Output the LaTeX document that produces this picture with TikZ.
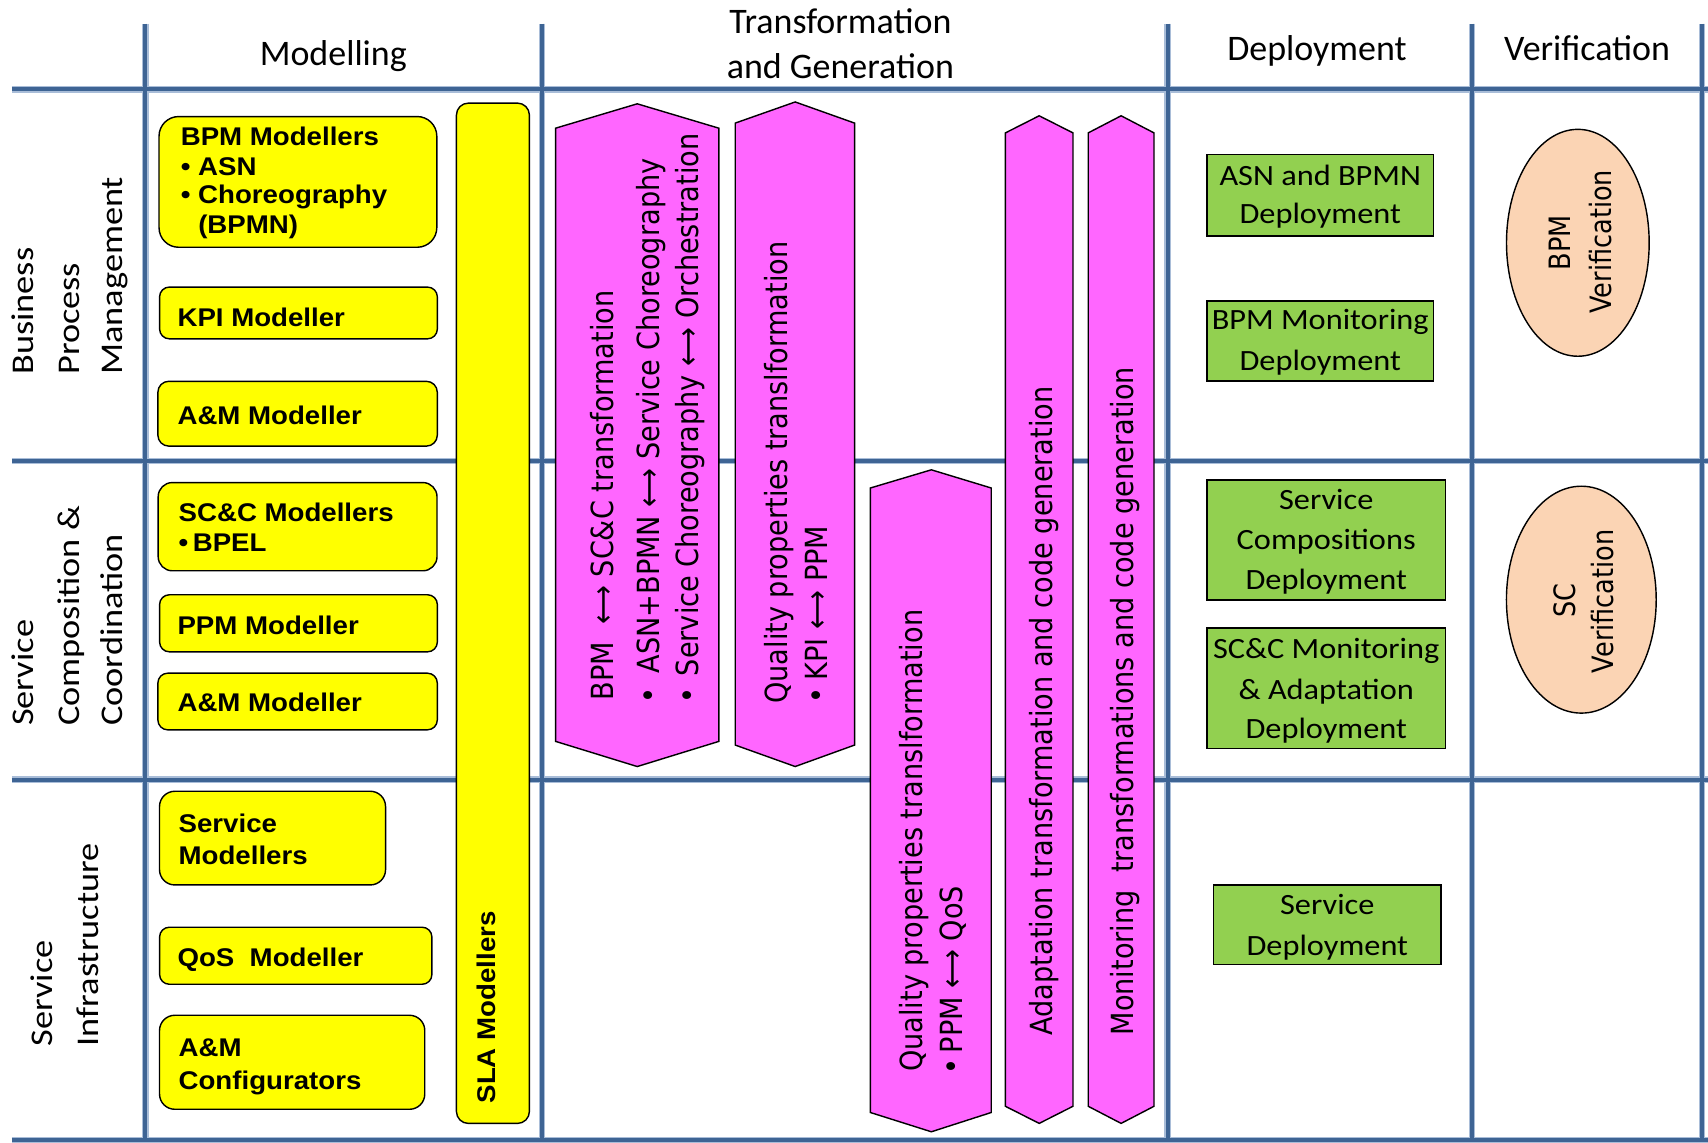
\documentclass[tikz,border=0pt]{standalone}
\usepackage{fontspec}
\usetikzlibrary{shapes.geometric}
\newfontfamily\hfont{Carlito}
\newfontfamily\rfont[FakeStretch=1.15]{Carlito}
\newfontfamily\gfont[FakeStretch=1.1]{Carlito}
\newfontfamily\yfont[FakeStretch=1.08]{Liberation Sans}
\newfontfamily\mfont[FakeStretch=0.89]{DejaVu Sans}
\newfontfamily\efont[FakeStretch=0.87]{DejaVu Sans}
\definecolor{yfill}{HTML}{FFFF00}
\definecolor{mfill}{HTML}{FF66FF}
\definecolor{gfill}{HTML}{92D050}
\definecolor{efill}{HTML}{FBD4B4}
\definecolor{gridc}{HTML}{3E6494}
\definecolor{haloc}{HTML}{A9BDD8}
\newcommand\ybul[1]{\makebox[#1][l]{•}}
\newcommand\mbul[1]{\makebox[#1][l]{•}}
\begin{document}
\begin{tikzpicture}[x=1pt,y=-1pt,
  t/.style={inner sep=0pt, outer sep=0pt, anchor=base west},
  tc/.style={inner sep=0pt, outer sep=0pt, anchor=base},
  rt/.style={inner sep=0pt, outer sep=0pt, anchor=base west, rotate=90},
  rtc/.style={inner sep=0pt, outer sep=0pt, anchor=base, rotate=90},
  hdr/.style={tc, font=\hfont\fontsize{33}{40}\selectfont},
  rowlbl/.style={rt, font=\rfont\fontsize{29}{35}\selectfont},
  ytxt/.style={t, font=\yfont\bfseries\fontsize{23.5}{28}\selectfont},
  gtxt/.style={tc, font=\gfont\fontsize{27}{32}\selectfont},
  mtxt/.style={rt, font=\mfont\fontsize{28}{34}\selectfont},
  etxt/.style={rtc, font=\efont\fontsize{27}{32}\selectfont},
  ybox/.style={draw=black, line width=1.3pt, fill=yfill, inner sep=0pt, outer sep=0pt},
  gbox/.style={draw=black, line width=1.3pt, fill=gfill, inner sep=0pt, outer sep=0pt},
  vbox/.style={ellipse, draw=black, line width=1.3pt, fill=efill, inner sep=0pt, outer sep=0pt},
  mshape/.style={draw=black, line width=1.3pt, fill=mfill, line join=miter},
  gridhalo/.style={draw=haloc, line width=6pt},
  gridline/.style={draw=gridc, line width=3.8pt}
]
\useasboundingbox (0,0) rectangle (1568,1048.4);
\fill[white] (0,0) rectangle (1568,1048.4);

% grid
\foreach \s in {gridhalo,gridline}{
  \draw[\s] (11,82) -- (1568,82);
  \draw[\s] (11,423) -- (1568,423);
  \draw[\s] (11,715.8) -- (1568,715.8);
  \draw[\s] (11,1046.6) -- (1568,1046.6);
  \draw[\s] (133.5,21.7) -- (133.5,1046);
  \draw[\s] (497.6,21.7) -- (497.6,1046);
  \draw[\s] (1072,21.7) -- (1072,1046);
  \draw[\s] (1351.4,21.7) -- (1351.4,1046);
  \draw[\s] (1562.5,21.7) -- (1562.5,1046);
}

% headers
\node[hdr] (hMod) at (306,60.2) {Modelling};
\node[hdr] (hTr1) at (771.5,30.8) {Transformation};
\node[hdr] (hTr2) at (771.5,71.9) {and Generation};
\node[hdr] (hDep) at (1209,55.2) {Deployment};
\node[hdr] (hVer) at (1457,55.2) {Verification};

% row labels
\node[rowlbl] (rB1) at (31,344) {Business};
\node[rowlbl] (rB2) at (73,344) {Process};
\node[rowlbl] (rB3) at (112,344) {Management};
\node[rowlbl] (rS1) at (31,666.3) {Service};
\node[rowlbl] (rS2) at (73,666.3) {Composition \&};
\node[rowlbl] (rS3) at (112,666.3) {Coordination};
\node[rowlbl] (rI1) at (48.5,960.5) {Service};
\node[rowlbl] (rI2) at (90,960.5) {Infrastructure};

% yellow boxes
\node[ybox, rounded corners=18pt, minimum width=255pt, minimum height=120pt] (bpmm) at (273.5,167) {};
\node[ybox, rounded corners=9pt, minimum width=255pt, minimum height=47.5pt] (kpim) at (274,287.3) {};
\node[ybox, rounded corners=10pt, minimum width=256.5pt, minimum height=59.5pt] (amm1) at (273.2,379.8) {};
\node[ybox, rounded corners=13pt, minimum width=256pt, minimum height=81pt] (sccm) at (273.2,483.5) {};
\node[ybox, rounded corners=9pt, minimum width=255pt, minimum height=52.4pt] (ppmm) at (274,572.2) {};
\node[ybox, rounded corners=9pt, minimum width=256.5pt, minimum height=52pt] (amm2) at (273.2,644) {};
\node[ybox, rounded corners=14pt, minimum width=207.5pt, minimum height=86pt] (svcm) at (250.2,769.4) {};
\node[ybox, rounded corners=9pt, minimum width=250pt, minimum height=52.4pt] (qosm) at (271.5,877.4) {};
\node[ybox, rounded corners=14pt, minimum width=243.5pt, minimum height=86.3pt] (amcf) at (268.2,975.2) {};
\node[ybox, rounded corners=11pt, minimum width=67pt, minimum height=936.7pt] (slam) at (452.5,563) {};

\node[ytxt] (t1a) at (166,134) {BPM Modellers};
\node[ytxt] (t1b) at (166,160.7) {\ybul{16pt}ASN};
\node[ytxt] (t1c) at (166,186.7) {\ybul{16pt}Choreography};
\node[ytxt] (t1d) at (166,214) {\hspace*{16pt}(BPMN)};
\node[ytxt] (t2) at (163,300) {KPI Modeller};
\node[ytxt] (t3) at (163,389.5) {A\&M Modeller};
\node[ytxt] (t4a) at (164,478.8) {SC\&C Modellers};
\node[ytxt] (t4b) at (164,506.5) {\ybul{13pt}BPEL};
\node[ytxt] (t5) at (163,582.7) {PPM Modeller};
\node[ytxt] (t6) at (163,653) {A\&M Modeller};
\node[ytxt] (t7a) at (164,764) {Service};
\node[ytxt] (t7b) at (164,794) {Modellers};
\node[ytxt] (t8) at (163,887) {QoS\ \ Modeller};
\node[ytxt] (t9a) at (164,970) {A\&M};
\node[ytxt] (t9b) at (164,1000.6) {Configurators};
\node[ytxt, rotate=90] (tsla) at (454.6,1012.9) {SLA Modellers};

% magenta transformation shapes
\path[mshape] (510,117.7) -- (585,95.3) -- (660,117.7) -- (660,680.6) -- (585,703.7) -- (510,680.6) -- cycle;
\path[mshape] (675,113) -- (730,93.6) -- (784.5,113) -- (784.5,684) -- (730,703.7) -- (675,684) -- cycle;
\path[mshape] (799,448) -- (855,431.3) -- (910,448) -- (910,1021.3) -- (855,1039) -- (799,1021.3) -- cycle;
\path[mshape] (923,122) -- (954,106.3) -- (985,122) -- (985,1015.6) -- (954,1031.3) -- (923,1015.6) -- cycle;
\path[mshape] (999,122) -- (1029.2,106.3) -- (1059.4,122) -- (1059.4,1015.6) -- (1029.2,1031.3) -- (999,1015.6) -- cycle;

\node[mtxt] (mA1) at (563,643) {BPM\ \ ⟷ SC\&C transformation};
\node[mtxt] (mA2) at (605,645.7) {\mbul{27.5pt}ASN+BPMN ⟷ Service Choreography};
\node[mtxt] (mA3) at (641,645.7) {\mbul{25pt}Service Choreography ⟷ Orchestration};
\node[mtxt] (mB1) at (722.5,646) {Quality properties translformation};
\node[mtxt] (mB2) at (760,645.7) {\mbul{21.2pt}KPI ⟷ PPM};
\node[mtxt] (mC1) at (847,984) {Quality properties translformation};
\node[mtxt] (mC2) at (884,986) {\mbul{19pt}PPM ⟷ QoS};
\node[mtxt] (mD) at (966,950.5) {Adaptation transformation and code generation};
\node[mtxt] (mE) at (1041,950.5) {Monitoring\ \ transformations and code generation};

% green deployment boxes
\node[gbox, minimum width=208pt, minimum height=74.7pt] (g1) at (1212,179.3) {};
\node[gbox, minimum width=208pt, minimum height=73.2pt] (g2) at (1212,313.1) {};
\node[gbox, minimum width=219pt, minimum height=110.4pt] (g3) at (1217.5,495.8) {};
\node[gbox, minimum width=219pt, minimum height=110.6pt] (g4) at (1217.5,632) {};
\node[gbox, minimum width=209pt, minimum height=72.9pt] (g5) at (1218.5,848.8) {};

\node[gtxt] (g1a) at (1212,170.5) {ASN and BPMN};
\node[gtxt] (g1b) at (1212,205.6) {Deployment};
\node[gtxt] (g2a) at (1212,302.6) {BPM Monitoring};
\node[gtxt] (g2b) at (1212,340.3) {Deployment};
\node[gtxt] (g3a) at (1217.5,468) {Service};
\node[gtxt] (g3b) at (1217.5,504.8) {Compositions};
\node[gtxt] (g3c) at (1217.5,541) {Deployment};
\node[gtxt] (g4a) at (1217.5,604.4) {SC\&C Monitoring};
\node[gtxt] (g4b) at (1217.5,641.9) {\& Adaptation};
\node[gtxt] (g4c) at (1217.5,678) {Deployment};
\node[gtxt] (g5a) at (1218.5,839.5) {Service};
\node[gtxt] (g5b) at (1218.5,876.9) {Deployment};

% verification ellipses
\node[vbox, minimum width=131pt, minimum height=208.3pt] (v1) at (1448.5,222.9) {};
\node[vbox, minimum width=137.5pt, minimum height=208.3pt] (v2) at (1451.7,550.5) {};
\node[etxt] (v1a) at (1441.5,222.9) {BPM};
\node[etxt] (v1b) at (1479,222) {Verification};
\node[etxt] (v2a) at (1446.5,551) {SC};
\node[etxt] (v2b) at (1481.5,552) {Verification};
\end{tikzpicture}
\end{document}
